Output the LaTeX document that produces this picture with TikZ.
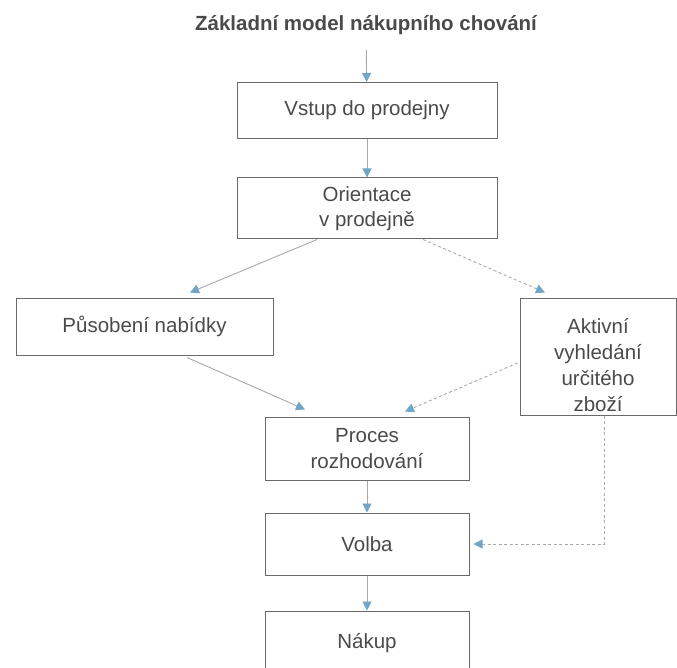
\documentclass[tikz,border=0pt]{standalone}
\usepackage{fontspec}
\setmainfont{Liberation Sans}
\usetikzlibrary{arrows.meta,calc}
\definecolor{txt}{HTML}{4A4A4A}
\definecolor{bord}{HTML}{6A6A6A}
\definecolor{conn}{HTML}{A8A8A8}
\definecolor{tipc}{HTML}{6FA6C8}
\tikzset{
  boxn/.style={draw=bord, line width=1pt, text=txt, font=\fontsize{20.5}{25.5}\selectfont, align=center, inner sep=0pt},
  arr/.style={draw=conn, line width=0.9pt, -{Triangle[length=9pt,width=9pt,color=tipc]}},
  darr/.style={arr, dash pattern=on 3pt off 2.5pt},
}
\begin{document}
\begin{tikzpicture}[x=1pt,y=-1pt]
\useasboundingbox (0,0) rectangle (677,668);
\node[text=txt, font=\bfseries\fontsize{20.5}{24}\selectfont] (title) at (366,25) {Základní model nákupního chování};
\node[boxn, minimum width=260pt, minimum height=56pt] (b1) at (367,110.5) {Vstup do prodejny};
\node[boxn, minimum width=260pt, minimum height=61pt] (b2) at (367,208.5) {Orientace\\v prodejně};
\node[boxn, minimum width=257pt, minimum height=57pt] (pn) at (144.5,326.5) {Působení nabídky};
\node[boxn, minimum width=156pt, minimum height=117pt] (ak) at (598,356.5) {\raisebox{-16pt}[0pt][0pt]{\fontsize{20.5}{26}\selectfont\begin{tabular}{@{}c@{}}Aktivní\\vyhledání\\určitého\\zboží\end{tabular}}};
\node[boxn, minimum width=204pt, minimum height=63pt] (pr) at (367,448.5) {Proces\\rozhodování};
\node[boxn, minimum width=204pt, minimum height=62pt] (vo) at (367,544) {Volba};
\node[boxn, minimum width=204pt, minimum height=64pt] (na) at (367,643) {Nákup};

\draw[arr, shorten <=12pt] (title) -- (b1);
\draw[arr] (b1) -- (b2);
\draw[arr] ($(b2.south)+(-50,0)$) -- ($(pn.north)+(45.5,-5)$);
\draw[darr] ($(b2.south)+(56,0)$) -- ($(ak.north)+(-53,-5)$);
\draw[arr] ($(pn.south)+(42.5,2)$) -- ($(pr.north)+(-62,-7)$);
\draw[darr] ($(ak.west)+(-2,6.5)$) -- ($(pr.north)+(38,-5)$);
\draw[arr] (pr) -- (vo);
\draw[arr] (vo) -- (na);
\draw[darr, shorten >=4pt] ($(ak.south)+(6,0)$) |- (vo.east);
\end{tikzpicture}
\end{document}
